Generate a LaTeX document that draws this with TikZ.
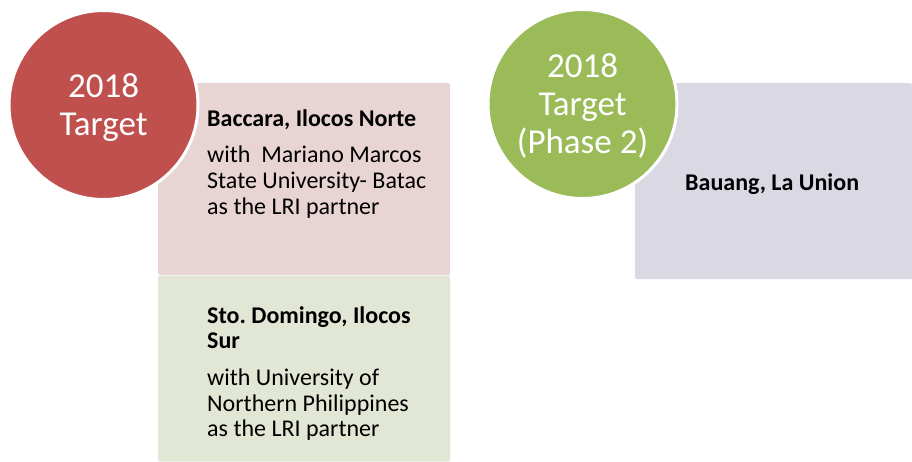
\documentclass[tikz,border=0pt]{standalone}
\usepackage{fontspec}
\setmainfont{Carlito}
\usepackage{tikz}
\usetikzlibrary{positioning}
\definecolor{targetRed}{HTML}{C0504D}
\definecolor{targetGreen}{HTML}{9BBB59}
\definecolor{pinkFill}{HTML}{E9D4D4}
\definecolor{greenFill}{HTML}{E1E7D4}
\definecolor{lavenderFill}{HTML}{DAD8E3}
\tikzstyle{target}   = [circle, draw=white, line width=3pt, text=white, text depth=0pt,
    minimum size=189pt, inner sep=0pt, align=center, font=\fontsize{35}{38}\selectfont]
\tikzstyle{sitebox}  = [rectangle, rounded corners=2pt, inner sep=0pt,
    minimum width=292pt, anchor=north west]
\tikzstyle{sitetext} = [align=left, inner sep=0pt, font=\fontsize{24}{25.5}\selectfont]
\frenchspacing

\begin{document}
\begin{tikzpicture}[x=1pt, y=-1pt]
    \useasboundingbox (0,0) rectangle (912,461);
    % Place nodes
    \node [sitebox, fill=pinkFill, minimum height=192pt] (baccaraBox) at (158,83) {};
    \node [sitebox, fill=greenFill, minimum height=186pt, below=0pt of baccaraBox] (domingoBox) {};
    \node [sitebox, fill=lavenderFill, minimum width=277pt, minimum height=196pt] (bauangBox) at (635,83) {};

    \node [sitetext, below right=26pt and 49pt of baccaraBox.north west] (baccaraText)
        {\textbf{Baccara, Ilocos Norte}\\[10.5pt] with\ \ Mariano Marcos\\[0.5pt] State University- Batac\\[0.5pt] as the LRI partner};
    \node [sitetext, below right=31pt and 49pt of domingoBox.north west] (domingoText)
        {\textbf{Sto. Domingo, Ilocos}\\ \textbf{Sur}\\[11.5pt] with University of\\ Northern Philippines\\ as the LRI partner};
    \node [sitetext, right=50pt of bauangBox.west, yshift=-2.5pt] (bauangText) {\textbf{Bauang, La Union}};

    % circles on top
    \node [target, fill=targetRed]   (redTarget)   at (103.5,105) {2018\\Target};
    \node [target, fill=targetGreen] (greenTarget) at (582.5,104) {2018\\Target\\(Phase 2)};
\end{tikzpicture}
\end{document}
